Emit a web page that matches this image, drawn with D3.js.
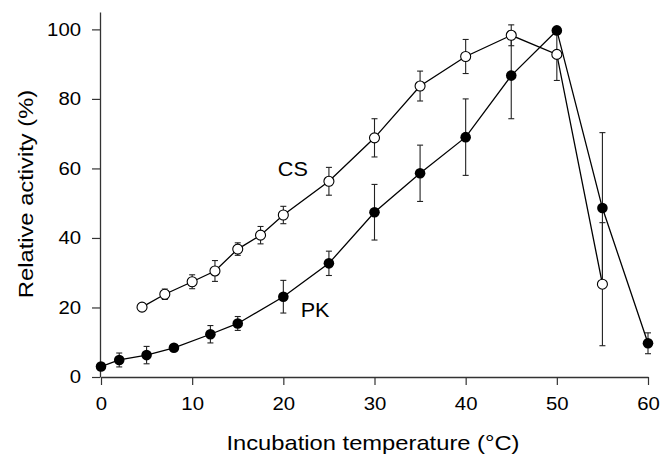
<!DOCTYPE html>
<html>
<head>
<meta charset="utf-8">
<script src="https://cdn.jsdelivr.net/npm/d3@7"></script>
<style>
  body { margin: 0; background: #fff; }
  text { font-family: "Liberation Sans", Arial, sans-serif; fill: #000; }
</style>
</head>
<body>
<script>
var width = 660;
var height = 454;

// CS (open circles)
var csTemp = [4.5, 7, 10, 12.5, 15, 17.5, 20, 25, 30, 35, 40, 45, 50, 55];
var csValue = [20.1, 23.8, 27.4, 30.5, 36.8, 40.8, 46.6, 56.3, 68.8, 83.7, 92.2, 98.3, 92.8, 26.7];
var csError = [0, 1.5, 2, 3, 1.8, 2.5, 2.5, 4, 5.5, 4.3, 4.9, 3, 7.5, 17.7];

// PK (filled circles)
var pkTemp = [0, 2, 5, 8, 12, 15, 20, 25, 30, 35, 40, 45, 50, 55, 60];
var pkValue = [3.0, 4.9, 6.3, 8.4, 12.3, 15.4, 23.1, 32.7, 47.4, 58.6, 69.0, 86.7, 99.7, 48.6, 9.7];
var pkError = [0, 2, 2.5, 0, 2.5, 2, 4.7, 3.5, 8, 8.1, 11, 12.4, 0, 21.7, 3];

var xTicks = [0, 10, 20, 30, 40, 50, 60];
var yTicks = [0, 20, 40, 60, 80, 100];

var xScale = d3.scaleLinear().domain([0, 60]).range([101, 648]);
var yScale = d3.scaleLinear().domain([0, 105]).range([377, 12]);

var svg = d3.select("body")
            .append("svg")
            .attr("width", width)
            .attr("height", height);

// widen text a little, the original typeface is broader than Arial
function stretch(sel, k) {
  sel.each(function() {
    var w = this.getComputedTextLength();
    d3.select(this).attr("textLength", w * k).attr("lengthAdjust", "spacingAndGlyphs");
  });
}

// X axis
var xAxis = svg.append("g")
   .attr("transform", "translate(0," + yScale(0) + ")")
   .call(d3.axisBottom(xScale).tickValues(xTicks).tickSize(8).tickSizeOuter(0).tickPadding(12));

// Y axis
var yAxis = svg.append("g")
   .attr("transform", "translate(" + (xScale(0) - 1) + ",0)")
   .call(d3.axisLeft(yScale).tickValues(yTicks).tickSize(8).tickSizeOuter(0).tickPadding(11));

[xAxis, yAxis].forEach(function(ax) {
  ax.select(".domain").attr("stroke", "#333").attr("stroke-width", 1.3);
  ax.selectAll(".tick line").attr("stroke", "#333").attr("stroke-width", 1.2);
  ax.selectAll(".tick text").style("font-size", "18px").attr("fill", "#000");
  stretch(ax.selectAll(".tick text"), 1.13);
});

// X label
var xl = svg.append("text")
   .attr("x", 373)
   .attr("y", 450)
   .style("text-anchor", "middle")
   .style("font-size", "21px")
   .text("Incubation temperature (\u00B0C)");
stretch(xl, 1.13);

// Y label
var yl = svg.append("text")
   .attr("transform", "translate(33,194) rotate(-90)")
   .style("text-anchor", "middle")
   .style("font-size", "21px")
   .text("Relative activity (%)");
stretch(yl, 1.13);

function toPoints(t, v, e) {
  return t.map(function(d, i) { return {t: d, v: v[i], e: e[i]}; });
}
var cs = toPoints(csTemp, csValue, csError);
var pk = toPoints(pkTemp, pkValue, pkError);

var line_plot = d3.line()
              .x(function(d) { return xScale(d.t); })
              .y(function(d) { return yScale(d.v); });

// error bars
function errorBars(data) {
  var g = svg.append("g").attr("stroke", "#222").attr("stroke-width", 1.1);
  var withErr = data.filter(function(d) { return d.e > 0; });
  g.selectAll(".bar").data(withErr).enter().append("line")
   .attr("x1", function(d) { return xScale(d.t); })
   .attr("x2", function(d) { return xScale(d.t); })
   .attr("y1", function(d) { return yScale(d.v - d.e); })
   .attr("y2", function(d) { return yScale(d.v + d.e); });
  [-1, 1].forEach(function(s) {
    g.selectAll(".cap" + s).data(withErr).enter().append("line")
     .attr("x1", function(d) { return xScale(d.t) - 3; })
     .attr("x2", function(d) { return xScale(d.t) + 3; })
     .attr("y1", function(d) { return yScale(d.v + s * d.e); })
     .attr("y2", function(d) { return yScale(d.v + s * d.e); });
  });
}
errorBars(cs);
errorBars(pk);

// lines
[cs, pk].forEach(function(data) {
  svg.append("path")
     .attr("stroke", "#000")
     .attr("stroke-width", 1.3)
     .attr("fill", "none")
     .attr("d", line_plot(data));
});

// markers
svg.append("g").selectAll("circle").data(cs).enter().append("circle")
   .attr("cx", function(d) { return xScale(d.t); })
   .attr("cy", function(d) { return yScale(d.v); })
   .attr("r", 5)
   .attr("fill", "#fff")
   .attr("stroke", "#000")
   .attr("stroke-width", 1.1);

svg.append("g").selectAll("circle").data(pk).enter().append("circle")
   .attr("cx", function(d) { return xScale(d.t); })
   .attr("cy", function(d) { return yScale(d.v); })
   .attr("r", 5.3)
   .attr("fill", "#000");

// series labels
var csLabel = svg.append("text")
   .attr("x", xScale(19.4))
   .attr("y", yScale(57.8))
   .style("font-size", "20px")
   .text("CS");
stretch(csLabel, 1.08);

var pkLabel = svg.append("text")
   .attr("x", xScale(21.9))
   .attr("y", yScale(17.3))
   .style("font-size", "20px")
   .text("PK");
stretch(pkLabel, 1.08);
</script>
</body>
</html>
